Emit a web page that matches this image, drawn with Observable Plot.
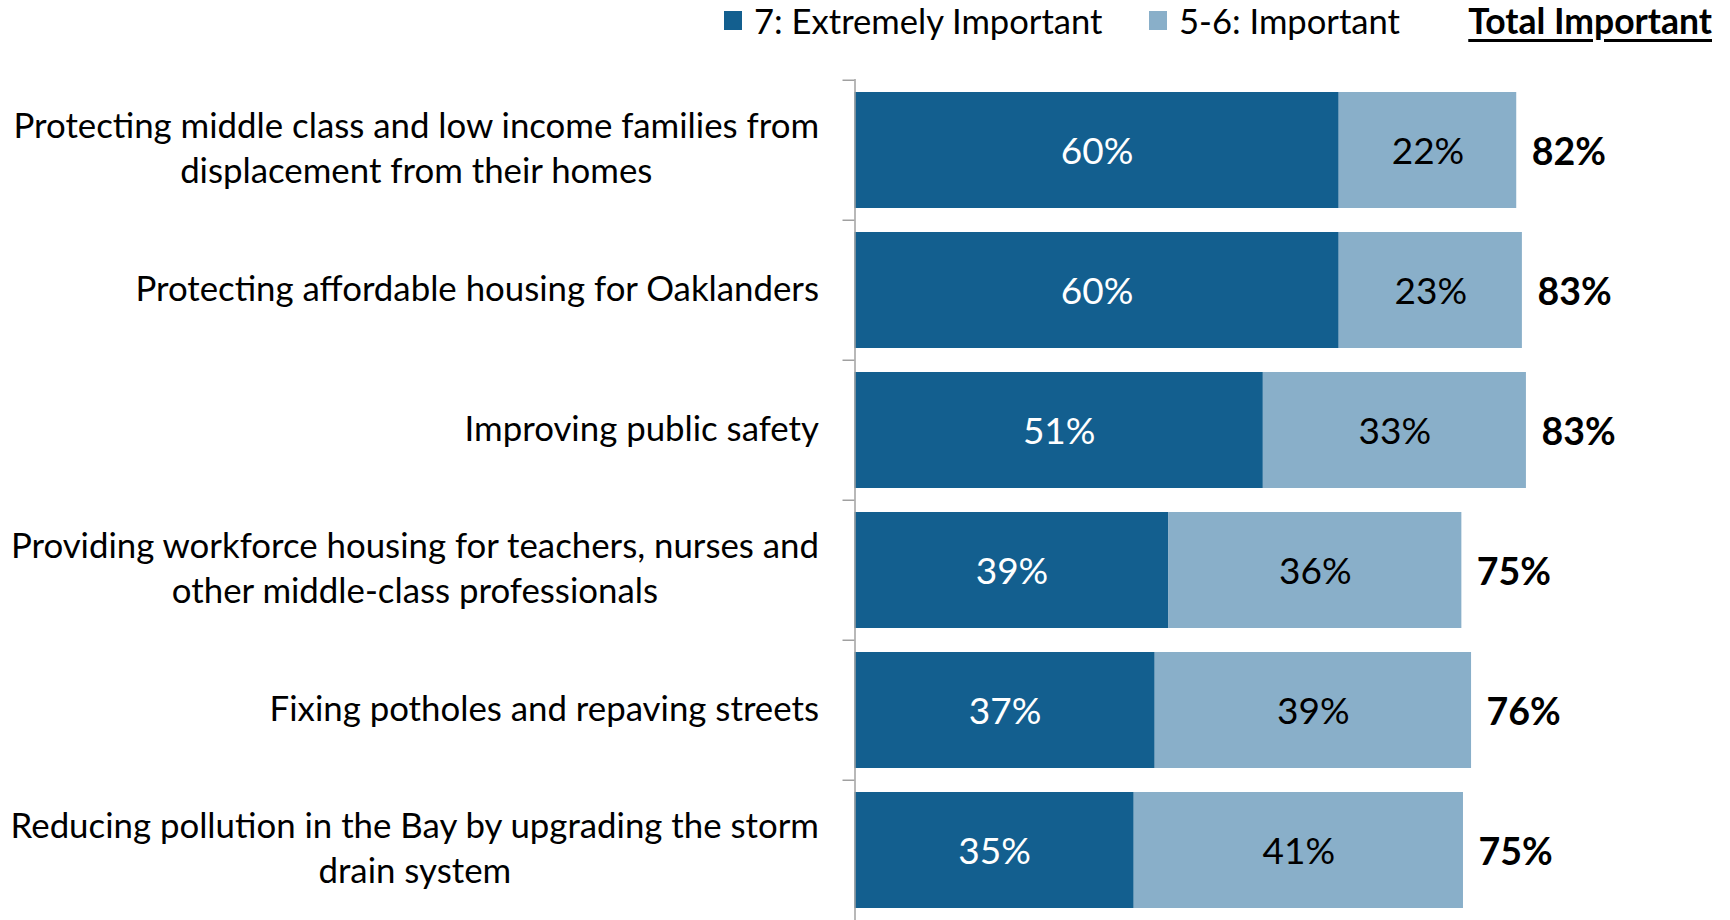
<!DOCTYPE html>
<html>
<head>
<meta charset="utf-8">
<script src="https://cdn.jsdelivr.net/npm/d3@7"></script>
<script src="https://cdn.jsdelivr.net/npm/@observablehq/plot@0.6"></script>
<style>
  html, body { margin: 0; padding: 0; background: #fff; }
  #wrap { position: relative; width: 1730px; height: 920px; overflow: hidden; font-family: Lato, "Open Sans", sans-serif; }
  #chart { position: absolute; left: 0; top: 0; }
  .leg { position: absolute; top: 0; height: 41px; display: flex; align-items: center; font-size: 34.6px; color: #000; white-space: nowrap; }
  .sw { display: inline-block; width: 18px; height: 19px; margin-right: 12px; }
  .tot { font-weight: bold; font-size: 35.5px; text-decoration: underline; text-decoration-thickness: 3px; text-underline-offset: 5px; }
</style>
</head>
<body>
<div id="wrap">
  <div id="chart"></div>
  <div class="leg" id="leg1" style="left:724px"></div>
  <div class="leg" id="leg2" style="left:1149px"></div>
  <div class="leg" id="leg3" style="right:18px"></div>
</div>
<script>
// ---- data ----
const categories = [
  "Protecting middle class and low income families from\ndisplacement from their homes",
  "Protecting affordable housing for Oaklanders",
  "Improving public safety",
  "Providing workforce housing for teachers, nurses and\nother middle-class professionals",
  "Fixing potholes and repaving streets",
  "Reducing pollution in the Bay by upgrading the storm\ndrain system"
];
const seriesNames = ["7: Extremely Important", "5-6: Important"];
const extremelyValues = [60.0, 60.0, 50.6, 38.9, 37.2, 34.6];
const importantValues = [22.0, 22.7, 32.6, 36.3, 39.2, 40.8];
const extremelyLabels = [60, 60, 51, 39, 37, 35];
const importantLabels = [22, 23, 33, 36, 39, 41];
const totalLabels = [82, 83, 83, 75, 76, 75];
const totalTitle = "Total Important";
const colors = ["#135F8F", "#89AFC9"];

// ---- tables built from the arrays ----
const rows = [];
categories.forEach((c, i) => {
  rows.push({cat: c, series: seriesNames[0], value: extremelyValues[i], label: extremelyLabels[i]});
  rows.push({cat: c, series: seriesNames[1], value: importantValues[i], label: importantLabels[i]});
});
const darkText = categories.map((c, i) => ({cat: c, mid: extremelyValues[i] / 2, label: extremelyLabels[i]}));
const lightText = categories.map((c, i) => ({cat: c, mid: extremelyValues[i] + importantValues[i] / 2, label: importantLabels[i]}));
const totals = categories.map((c, i) => ({cat: c, total: extremelyValues[i] + importantValues[i], label: totalLabels[i]}));

// ---- layout ----
const W = 1730, H = 922;
const mTop = 79, mBottom = 0, mLeft = 854.5, mRight = 68.5;
const padIn = 0.17, padOut = padIn / 2;
const step = (H - mTop - mBottom) / (categories.length - padIn + 2 * padOut);
const tickLen = 12 / ((W - mLeft - mRight) / 100); // 12px in x units
const axisColor = "#A0A0A0";

const plot = Plot.plot({
  width: W,
  height: H,
  marginTop: mTop,
  marginBottom: mBottom,
  marginLeft: mLeft,
  marginRight: mRight,
  style: {fontFamily: "Lato, 'Open Sans', sans-serif", background: "white", overflow: "visible"},
  x: {domain: [0, 100], axis: null},
  y: {domain: categories, paddingInner: padIn, paddingOuter: padOut, axis: null},
  color: {domain: seriesNames, range: colors},
  marks: [
    Plot.barX(rows, Plot.stackX({y: "cat", x: "value", fill: "series", order: null})),
    Plot.text(darkText, {x: "mid", y: "cat", text: d => d.label + "%", fill: "white", fontSize: 37, dy: 2}),
    Plot.text(lightText, {x: "mid", y: "cat", text: d => d.label + "%", fill: "black", fontSize: 37, dy: 2}),
    Plot.text(totals, {x: "total", y: "cat", text: d => d.label + "%", textAnchor: "start", dx: 15, dy: 2, fontWeight: "bold", fontSize: 37.5, fill: "black"}),
    Plot.ruleX([0], {stroke: axisColor, strokeWidth: 1.5}),
    Plot.ruleY(categories, {y: d => d, x1: -tickLen, x2: 0, dy: -step / 2, stroke: axisColor, strokeWidth: 1.5}),
    Plot.axisY({label: null, tickSize: 0, tickPadding: 36, fontSize: 34.8, lineHeight: 1.29, dy: -4, fill: "black", textAnchor: "end"})
  ]
});
document.getElementById("chart").appendChild(plot);

// center the lines of multi-line category labels within their block (right edge kept)
plot.querySelectorAll('g[aria-label="y-axis tick label"] text').forEach(t => {
  const spans = t.querySelectorAll("tspan");
  if (spans.length < 2) return;
  let maxW = 0;
  spans.forEach(s => { maxW = Math.max(maxW, s.getComputedTextLength()); });
  spans.forEach(s => { s.setAttribute("x", -maxW / 2); s.setAttribute("text-anchor", "middle"); });
});

// legend
[["leg1", 0], ["leg2", 1]].forEach(([id, i]) => {
  const el = document.getElementById(id);
  const sw = document.createElement("span");
  sw.className = "sw"; sw.style.background = colors[i];
  el.appendChild(sw);
  el.appendChild(document.createTextNode(seriesNames[i]));
});
const t3 = document.createElement("span");
t3.className = "tot"; t3.textContent = totalTitle;
document.getElementById("leg3").appendChild(t3);
</script>
</body>
</html>
